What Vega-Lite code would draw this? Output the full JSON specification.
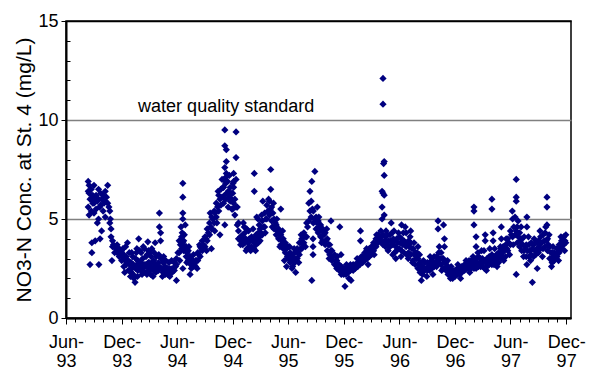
{
"$schema":"https://vega.github.io/schema/vega-lite/v6.json",
"width":505,"height":297,
"autosize":"none",
"padding":{"left":66,"top":21,"right":23,"bottom":53},
"background":"white",
"config":{"font":"Liberation Sans","view":{"stroke":"#000","strokeWidth":1.5},"axis":{"labelColor":"#000","titleColor":"#000","tickColor":"#000","domainColor":"#000"}},
"datasets":{"main":[
{"d":"1993-08-13","v":6.9},{"d":"1993-08-13","v":6.4},{"d":"1993-08-13","v":5.6},
{"d":"1993-08-16","v":6.3},{"d":"1993-08-16","v":5.2},{"d":"1993-08-16","v":6.7},
{"d":"1993-08-19","v":2.7},{"d":"1993-08-19","v":6.0},
{"d":"1993-08-23","v":6.0},{"d":"1993-08-23","v":5.4},{"d":"1993-08-23","v":6.5},
{"d":"1993-08-25","v":3.3},{"d":"1993-08-25","v":3.8},
{"d":"1993-08-27","v":6.1},
{"d":"1993-08-28","v":5.8},{"d":"1993-08-28","v":6.2},
{"d":"1993-09-01","v":6.7},{"d":"1993-09-01","v":5.8},{"d":"1993-09-01","v":5.3},
{"d":"1993-09-04","v":6.0},
{"d":"1993-09-05","v":3.9},
{"d":"1993-09-08","v":6.2},{"d":"1993-09-08","v":5.5},
{"d":"1993-09-12","v":4.8},{"d":"1993-09-12","v":5.9},
{"d":"1993-09-16","v":6.0},{"d":"1993-09-16","v":5.0},{"d":"1993-09-16","v":6.5},
{"d":"1993-09-17","v":2.7},
{"d":"1993-09-20","v":5.6},
{"d":"1993-09-21","v":4.0},
{"d":"1993-09-23","v":6.3},{"d":"1993-09-23","v":5.7},
{"d":"1993-09-26","v":4.4},
{"d":"1993-09-27","v":6.0},
{"d":"1993-10-01","v":6.2},{"d":"1993-10-01","v":5.4},
{"d":"1993-10-04","v":5.8},
{"d":"1993-10-08","v":5.9},{"d":"1993-10-08","v":5.1},{"d":"1993-10-08","v":6.4},
{"d":"1993-10-12","v":6.1},
{"d":"1993-10-16","v":6.7},{"d":"1993-10-16","v":5.8},
{"d":"1993-10-20","v":5.6},
{"d":"1993-10-23","v":5.4},{"d":"1993-10-23","v":4.8},
{"d":"1993-10-25","v":5.0},
{"d":"1993-10-27","v":4.5},{"d":"1993-10-27","v":4.1},
{"d":"1993-10-30","v":2.9},
{"d":"1993-11-01","v":3.9},{"d":"1993-11-01","v":3.6},
{"d":"1993-11-04","v":3.7},
{"d":"1993-11-08","v":3.6},{"d":"1993-11-08","v":3.3},
{"d":"1993-11-12","v":3.5},
{"d":"1993-11-16","v":3.7},{"d":"1993-11-16","v":3.3},
{"d":"1993-11-20","v":3.4},
{"d":"1993-11-23","v":3.5},{"d":"1993-11-23","v":3.1},
{"d":"1993-11-27","v":3.3},
{"d":"1993-12-01","v":3.4},{"d":"1993-12-01","v":2.9},
{"d":"1993-12-04","v":3.1},
{"d":"1993-12-05","v":3.5},
{"d":"1993-12-08","v":3.2},{"d":"1993-12-08","v":2.6},
{"d":"1993-12-11","v":2.3},
{"d":"1993-12-12","v":2.9},
{"d":"1993-12-14","v":3.6},
{"d":"1993-12-16","v":3.1},{"d":"1993-12-16","v":2.7},
{"d":"1993-12-20","v":3.8},{"d":"1993-12-20","v":2.9},
{"d":"1993-12-23","v":2.9},{"d":"1993-12-23","v":2.4},
{"d":"1993-12-26","v":3.3},
{"d":"1993-12-27","v":2.7},
{"d":"1993-12-30","v":2.1},
{"d":"1994-01-01","v":2.8},{"d":"1994-01-01","v":2.3},
{"d":"1994-01-03","v":3.3},
{"d":"1994-01-04","v":2.5},
{"d":"1994-01-06","v":3.1},
{"d":"1994-01-08","v":2.7},{"d":"1994-01-08","v":2.2},
{"d":"1994-01-10","v":2.0},
{"d":"1994-01-12","v":2.6},
{"d":"1994-01-14","v":1.8},
{"d":"1994-01-16","v":3.0},{"d":"1994-01-16","v":2.5},
{"d":"1994-01-18","v":3.3},
{"d":"1994-01-20","v":3.5},{"d":"1994-01-20","v":2.7},
{"d":"1994-01-22","v":2.1},
{"d":"1994-01-23","v":2.9},{"d":"1994-01-23","v":2.4},
{"d":"1994-01-26","v":4.0},
{"d":"1994-01-27","v":2.6},
{"d":"1994-01-29","v":3.4},
{"d":"1994-02-01","v":2.8},{"d":"1994-02-01","v":2.4},
{"d":"1994-02-03","v":3.3},
{"d":"1994-02-04","v":2.7},
{"d":"1994-02-06","v":2.2},
{"d":"1994-02-08","v":3.0},{"d":"1994-02-08","v":2.5},
{"d":"1994-02-10","v":3.6},
{"d":"1994-02-12","v":2.7},
{"d":"1994-02-14","v":3.5},
{"d":"1994-02-16","v":2.7},{"d":"1994-02-16","v":2.3},
{"d":"1994-02-19","v":3.1},
{"d":"1994-02-20","v":2.6},
{"d":"1994-02-22","v":2.2},
{"d":"1994-02-23","v":3.2},{"d":"1994-02-23","v":2.6},
{"d":"1994-02-25","v":3.85},
{"d":"1994-02-27","v":2.8},{"d":"1994-02-27","v":3.4},
{"d":"1994-03-01","v":2.8},{"d":"1994-03-01","v":2.4},
{"d":"1994-03-03","v":3.3},
{"d":"1994-03-04","v":2.7},
{"d":"1994-03-06","v":2.2},
{"d":"1994-03-08","v":3.1},{"d":"1994-03-08","v":2.5},
{"d":"1994-03-10","v":3.5},
{"d":"1994-03-12","v":2.8},
{"d":"1994-03-14","v":2.1},
{"d":"1994-03-16","v":2.9},{"d":"1994-03-16","v":2.4},
{"d":"1994-03-18","v":3.3},
{"d":"1994-03-20","v":2.6},
{"d":"1994-03-21","v":3.8},
{"d":"1994-03-23","v":2.7},{"d":"1994-03-23","v":2.3},
{"d":"1994-03-25","v":3.1},
{"d":"1994-03-27","v":2.5},
{"d":"1994-04-01","v":2.8},{"d":"1994-04-01","v":2.4},
{"d":"1994-04-02","v":3.2},
{"d":"1994-04-04","v":5.3},{"d":"1994-04-04","v":4.6},{"d":"1994-04-04","v":2.6},
{"d":"1994-04-08","v":4.3},{"d":"1994-04-08","v":3.9},
{"d":"1994-04-10","v":3.0},
{"d":"1994-04-12","v":2.5},
{"d":"1994-04-14","v":2.1},
{"d":"1994-04-16","v":2.8},{"d":"1994-04-16","v":2.3},
{"d":"1994-04-18","v":3.1},
{"d":"1994-04-20","v":2.5},
{"d":"1994-04-23","v":2.6},{"d":"1994-04-23","v":2.2},
{"d":"1994-04-25","v":2.9},
{"d":"1994-04-27","v":2.4},
{"d":"1994-05-01","v":2.5},{"d":"1994-05-01","v":2.2},
{"d":"1994-05-04","v":2.3},
{"d":"1994-05-05","v":2.8},
{"d":"1994-05-08","v":2.5},{"d":"1994-05-08","v":2.1},
{"d":"1994-05-12","v":2.3},
{"d":"1994-05-14","v":2.9},
{"d":"1994-05-16","v":2.5},{"d":"1994-05-16","v":2.3},
{"d":"1994-05-20","v":2.5},
{"d":"1994-05-23","v":2.8},{"d":"1994-05-23","v":2.4},
{"d":"1994-05-27","v":2.6},
{"d":"1994-05-30","v":1.9},{"d":"1994-05-30","v":3.0},{"d":"1994-05-30","v":2.7},
{"d":"1994-06-04","v":3.3},
{"d":"1994-06-08","v":3.9},{"d":"1994-06-08","v":3.3},
{"d":"1994-06-10","v":2.9},
{"d":"1994-06-12","v":3.7},
{"d":"1994-06-14","v":4.6},
{"d":"1994-06-16","v":4.1},{"d":"1994-06-16","v":3.5},
{"d":"1994-06-18","v":4.3},
{"d":"1994-06-20","v":6.8},{"d":"1994-06-20","v":6.1},{"d":"1994-06-20","v":5.3},{"d":"1994-06-20","v":5.0},{"d":"1994-06-20","v":2.5},{"d":"1994-06-20","v":3.8},
{"d":"1994-06-23","v":3.9},{"d":"1994-06-23","v":3.4},
{"d":"1994-06-25","v":4.2},
{"d":"1994-06-27","v":3.6},
{"d":"1994-06-28","v":4.7},
{"d":"1994-07-01","v":3.6},{"d":"1994-07-01","v":3.1},
{"d":"1994-07-03","v":2.8},
{"d":"1994-07-04","v":3.3},
{"d":"1994-07-08","v":3.4},{"d":"1994-07-08","v":2.9},
{"d":"1994-07-10","v":3.6},
{"d":"1994-07-12","v":3.1},
{"d":"1994-07-14","v":2.2},
{"d":"1994-07-16","v":3.1},{"d":"1994-07-16","v":2.7},
{"d":"1994-07-18","v":2.5},
{"d":"1994-07-20","v":2.9},
{"d":"1994-07-23","v":2.9},{"d":"1994-07-23","v":2.6},
{"d":"1994-07-25","v":3.2},
{"d":"1994-07-27","v":2.7},
{"d":"1994-08-01","v":2.9},{"d":"1994-08-01","v":2.6},
{"d":"1994-08-04","v":2.9},
{"d":"1994-08-06","v":2.5},
{"d":"1994-08-08","v":3.3},{"d":"1994-08-08","v":2.9},
{"d":"1994-08-12","v":3.2},
{"d":"1994-08-14","v":3.7},
{"d":"1994-08-16","v":3.6},{"d":"1994-08-16","v":3.1},
{"d":"1994-08-20","v":3.5},
{"d":"1994-08-23","v":3.9},{"d":"1994-08-23","v":3.4},
{"d":"1994-08-27","v":3.7},
{"d":"1994-09-01","v":4.1},{"d":"1994-09-01","v":3.6},
{"d":"1994-09-04","v":4.0},
{"d":"1994-09-06","v":3.4},
{"d":"1994-09-08","v":4.5},{"d":"1994-09-08","v":3.9},
{"d":"1994-09-12","v":4.3},
{"d":"1994-09-16","v":4.8},{"d":"1994-09-16","v":4.2},
{"d":"1994-09-18","v":5.3},
{"d":"1994-09-20","v":4.6},
{"d":"1994-09-22","v":3.5},
{"d":"1994-09-23","v":5.1},{"d":"1994-09-23","v":4.5},
{"d":"1994-09-27","v":5.0},
{"d":"1994-10-01","v":5.4},{"d":"1994-10-01","v":4.8},
{"d":"1994-10-03","v":4.4},
{"d":"1994-10-04","v":5.3},
{"d":"1994-10-08","v":5.8},{"d":"1994-10-08","v":5.1},
{"d":"1994-10-10","v":4.8},
{"d":"1994-10-12","v":5.6},
{"d":"1994-10-14","v":6.4},
{"d":"1994-10-16","v":6.2},{"d":"1994-10-16","v":5.4},
{"d":"1994-10-20","v":4.2},{"d":"1994-10-20","v":6.0},
{"d":"1994-10-23","v":6.5},{"d":"1994-10-23","v":5.7},
{"d":"1994-10-27","v":7.0},{"d":"1994-10-27","v":6.1},
{"d":"1994-10-30","v":6.6},
{"d":"1994-11-01","v":6.6},{"d":"1994-11-01","v":5.8},
{"d":"1994-11-03","v":7.0},
{"d":"1994-11-04","v":6.2},
{"d":"1994-11-05","v":9.5},{"d":"1994-11-05","v":8.7},{"d":"1994-11-05","v":7.6},{"d":"1994-11-05","v":4.7},
{"d":"1994-11-08","v":6.8},{"d":"1994-11-08","v":6.0},{"d":"1994-11-08","v":7.1},
{"d":"1994-11-10","v":8.5},{"d":"1994-11-10","v":7.9},{"d":"1994-11-10","v":7.3},
{"d":"1994-11-12","v":6.3},
{"d":"1994-11-14","v":6.9},
{"d":"1994-11-16","v":6.4},{"d":"1994-11-16","v":5.6},
{"d":"1994-11-20","v":6.1},{"d":"1994-11-20","v":7.2},
{"d":"1994-11-23","v":6.6},{"d":"1994-11-23","v":5.9},
{"d":"1994-11-27","v":6.0},
{"d":"1994-11-28","v":6.3},{"d":"1994-11-28","v":5.5},
{"d":"1994-12-01","v":6.3},{"d":"1994-12-01","v":5.5},
{"d":"1994-12-02","v":6.8},
{"d":"1994-12-04","v":7.3},{"d":"1994-12-04","v":6.9},{"d":"1994-12-04","v":6.6},{"d":"1994-12-04","v":5.8},
{"d":"1994-12-08","v":6.0},{"d":"1994-12-08","v":5.2},
{"d":"1994-12-12","v":9.4},{"d":"1994-12-12","v":8.1},{"d":"1994-12-12","v":7.0},{"d":"1994-12-12","v":5.6},
{"d":"1994-12-16","v":5.6},{"d":"1994-12-16","v":4.7},
{"d":"1994-12-20","v":4.4},{"d":"1994-12-20","v":4.0},{"d":"1994-12-20","v":4.8},
{"d":"1994-12-27","v":4.1},{"d":"1994-12-27","v":3.7},{"d":"1994-12-27","v":3.9},
{"d":"1995-01-03","v":4.2},{"d":"1995-01-03","v":3.7},
{"d":"1995-01-05","v":4.8},
{"d":"1995-01-06","v":4.0},
{"d":"1995-01-08","v":4.6},
{"d":"1995-01-10","v":4.3},{"d":"1995-01-10","v":3.8},
{"d":"1995-01-13","v":4.0},
{"d":"1995-01-14","v":3.4},
{"d":"1995-01-16","v":4.5},
{"d":"1995-01-17","v":3.9},{"d":"1995-01-17","v":3.5},
{"d":"1995-01-20","v":3.8},
{"d":"1995-01-22","v":4.4},
{"d":"1995-01-24","v":4.0},{"d":"1995-01-24","v":3.6},
{"d":"1995-01-27","v":3.9},
{"d":"1995-01-29","v":3.4},
{"d":"1995-02-01","v":4.1},{"d":"1995-02-01","v":3.6},
{"d":"1995-02-04","v":3.9},
{"d":"1995-02-06","v":4.5},
{"d":"1995-02-08","v":4.0},{"d":"1995-02-08","v":3.5},
{"d":"1995-02-10","v":7.3},{"d":"1995-02-10","v":6.4},
{"d":"1995-02-12","v":3.8},
{"d":"1995-02-14","v":3.4},
{"d":"1995-02-16","v":4.2},{"d":"1995-02-16","v":3.7},
{"d":"1995-02-18","v":5.1},
{"d":"1995-02-20","v":4.0},
{"d":"1995-02-22","v":5.0},
{"d":"1995-02-23","v":4.3},{"d":"1995-02-23","v":3.8},
{"d":"1995-02-26","v":4.7},
{"d":"1995-02-27","v":4.1},
{"d":"1995-03-01","v":4.5},{"d":"1995-03-01","v":3.9},
{"d":"1995-03-04","v":4.3},
{"d":"1995-03-06","v":5.2},
{"d":"1995-03-08","v":4.9},{"d":"1995-03-08","v":4.2},
{"d":"1995-03-10","v":5.9},
{"d":"1995-03-12","v":4.6},
{"d":"1995-03-16","v":5.3},{"d":"1995-03-16","v":4.6},
{"d":"1995-03-18","v":4.3},
{"d":"1995-03-20","v":5.0},
{"d":"1995-03-23","v":5.7},{"d":"1995-03-23","v":5.0},
{"d":"1995-03-27","v":5.4},
{"d":"1995-03-29","v":6.0},
{"d":"1995-04-01","v":5.9},{"d":"1995-04-01","v":5.2},
{"d":"1995-04-04","v":5.5},
{"d":"1995-04-05","v":7.5},{"d":"1995-04-05","v":6.5},
{"d":"1995-04-08","v":5.6},{"d":"1995-04-08","v":4.9},
{"d":"1995-04-10","v":4.6},
{"d":"1995-04-12","v":5.3},
{"d":"1995-04-14","v":5.8},
{"d":"1995-04-16","v":5.0},{"d":"1995-04-16","v":4.5},
{"d":"1995-04-20","v":4.8},
{"d":"1995-04-23","v":4.7},{"d":"1995-04-23","v":4.2},
{"d":"1995-04-25","v":5.0},
{"d":"1995-04-27","v":4.4},
{"d":"1995-05-01","v":4.5},{"d":"1995-05-01","v":4.0},
{"d":"1995-05-04","v":4.3},
{"d":"1995-05-05","v":3.6},
{"d":"1995-05-08","v":4.2},{"d":"1995-05-08","v":3.7},{"d":"1995-05-08","v":5.5},
{"d":"1995-05-12","v":3.9},
{"d":"1995-05-14","v":4.4},
{"d":"1995-05-16","v":4.0},{"d":"1995-05-16","v":3.5},
{"d":"1995-05-20","v":2.9},{"d":"1995-05-20","v":3.7},
{"d":"1995-05-23","v":3.8},{"d":"1995-05-23","v":3.3},
{"d":"1995-05-27","v":2.6},{"d":"1995-05-27","v":3.5},
{"d":"1995-05-30","v":3.1},
{"d":"1995-06-01","v":3.6},{"d":"1995-06-01","v":3.0},
{"d":"1995-06-04","v":3.2},
{"d":"1995-06-06","v":3.6},
{"d":"1995-06-08","v":3.3},{"d":"1995-06-08","v":2.8},
{"d":"1995-06-12","v":3.0},
{"d":"1995-06-14","v":2.5},
{"d":"1995-06-16","v":3.1},{"d":"1995-06-16","v":2.6},
{"d":"1995-06-20","v":2.9},
{"d":"1995-06-21","v":3.5},
{"d":"1995-06-23","v":3.3},{"d":"1995-06-23","v":2.8},
{"d":"1995-06-26","v":2.3},
{"d":"1995-06-27","v":3.0},
{"d":"1995-07-01","v":3.5},{"d":"1995-07-01","v":3.0},
{"d":"1995-07-04","v":3.3},
{"d":"1995-07-06","v":2.8},
{"d":"1995-07-08","v":3.8},{"d":"1995-07-08","v":3.2},
{"d":"1995-07-12","v":3.5},
{"d":"1995-07-14","v":4.2},
{"d":"1995-07-16","v":4.0},{"d":"1995-07-16","v":3.5},
{"d":"1995-07-20","v":3.7},
{"d":"1995-07-23","v":4.3},{"d":"1995-07-23","v":3.8},
{"d":"1995-07-27","v":4.1},
{"d":"1995-07-28","v":3.6},
{"d":"1995-08-01","v":4.8},{"d":"1995-08-01","v":4.1},
{"d":"1995-08-04","v":4.6},
{"d":"1995-08-08","v":5.8},{"d":"1995-08-08","v":4.9},
{"d":"1995-08-12","v":6.4},{"d":"1995-08-12","v":5.4},
{"d":"1995-08-16","v":5.9},{"d":"1995-08-16","v":5.1},
{"d":"1995-08-18","v":1.9},{"d":"1995-08-18","v":6.9},
{"d":"1995-08-20","v":5.5},
{"d":"1995-08-22","v":3.6},{"d":"1995-08-22","v":3.2},{"d":"1995-08-22","v":4.0},
{"d":"1995-08-23","v":5.4},{"d":"1995-08-23","v":4.8},
{"d":"1995-08-27","v":5.0},
{"d":"1995-08-28","v":7.4},
{"d":"1995-09-01","v":5.1},{"d":"1995-09-01","v":4.5},
{"d":"1995-09-04","v":4.8},
{"d":"1995-09-05","v":5.6},
{"d":"1995-09-08","v":4.9},{"d":"1995-09-08","v":4.3},
{"d":"1995-09-10","v":5.1},
{"d":"1995-09-12","v":4.6},
{"d":"1995-09-16","v":4.7},{"d":"1995-09-16","v":4.1},
{"d":"1995-09-19","v":3.8},
{"d":"1995-09-20","v":4.4},
{"d":"1995-09-23","v":4.5},{"d":"1995-09-23","v":3.9},
{"d":"1995-09-27","v":4.2},
{"d":"1995-10-01","v":4.3},{"d":"1995-10-01","v":3.7},
{"d":"1995-10-04","v":3.9},
{"d":"1995-10-06","v":4.5},
{"d":"1995-10-08","v":4.0},{"d":"1995-10-08","v":3.4},
{"d":"1995-10-12","v":3.7},
{"d":"1995-10-14","v":3.0},
{"d":"1995-10-16","v":3.7},{"d":"1995-10-16","v":3.2},
{"d":"1995-10-20","v":4.9},{"d":"1995-10-20","v":3.4},
{"d":"1995-10-23","v":3.4},{"d":"1995-10-23","v":2.9},
{"d":"1995-10-27","v":3.1},
{"d":"1995-11-01","v":3.2},{"d":"1995-11-01","v":2.7},
{"d":"1995-11-04","v":2.9},
{"d":"1995-11-08","v":2.9},{"d":"1995-11-08","v":2.5},
{"d":"1995-11-10","v":3.1},
{"d":"1995-11-12","v":2.7},
{"d":"1995-11-16","v":2.7},{"d":"1995-11-16","v":2.4},
{"d":"1995-11-18","v":4.6},
{"d":"1995-11-20","v":2.5},
{"d":"1995-11-22","v":3.2},
{"d":"1995-11-23","v":2.6},{"d":"1995-11-23","v":2.2},
{"d":"1995-11-27","v":2.4},
{"d":"1995-12-01","v":2.5},{"d":"1995-12-01","v":2.2},
{"d":"1995-12-04","v":2.3},
{"d":"1995-12-05","v":1.6},
{"d":"1995-12-08","v":2.5},{"d":"1995-12-08","v":2.2},
{"d":"1995-12-10","v":2.7},
{"d":"1995-12-12","v":2.4},
{"d":"1995-12-16","v":2.5},{"d":"1995-12-16","v":2.3},
{"d":"1995-12-18","v":2.0},
{"d":"1995-12-20","v":2.4},
{"d":"1995-12-23","v":2.7},{"d":"1995-12-23","v":2.4},
{"d":"1995-12-25","v":1.9},
{"d":"1995-12-27","v":2.5},
{"d":"1996-01-01","v":2.7},{"d":"1996-01-01","v":2.4},
{"d":"1996-01-04","v":2.6},
{"d":"1996-01-08","v":2.7},{"d":"1996-01-08","v":2.5},
{"d":"1996-01-12","v":2.6},
{"d":"1996-01-14","v":3.0},
{"d":"1996-01-16","v":2.8},{"d":"1996-01-16","v":2.6},
{"d":"1996-01-20","v":2.7},
{"d":"1996-01-23","v":2.9},{"d":"1996-01-23","v":2.7},
{"d":"1996-01-25","v":4.4},{"d":"1996-01-25","v":3.9},
{"d":"1996-01-28","v":3.1},{"d":"1996-01-28","v":2.9},
{"d":"1996-02-01","v":3.1},{"d":"1996-02-01","v":2.8},
{"d":"1996-02-04","v":3.0},
{"d":"1996-02-08","v":3.3},{"d":"1996-02-08","v":2.9},
{"d":"1996-02-12","v":3.1},
{"d":"1996-02-14","v":3.5},
{"d":"1996-02-16","v":3.4},{"d":"1996-02-16","v":3.0},
{"d":"1996-02-19","v":2.7},
{"d":"1996-02-20","v":3.2},
{"d":"1996-02-23","v":3.5},{"d":"1996-02-23","v":3.1},
{"d":"1996-02-27","v":3.3},
{"d":"1996-03-01","v":3.6},{"d":"1996-03-01","v":3.2},
{"d":"1996-03-04","v":3.4},
{"d":"1996-03-08","v":3.8},{"d":"1996-03-08","v":3.4},
{"d":"1996-03-10","v":3.2},
{"d":"1996-03-12","v":3.6},
{"d":"1996-03-16","v":4.0},{"d":"1996-03-16","v":3.6},
{"d":"1996-03-18","v":4.2},
{"d":"1996-03-20","v":3.8},
{"d":"1996-03-23","v":4.2},{"d":"1996-03-23","v":3.8},
{"d":"1996-03-27","v":4.0},
{"d":"1996-04-01","v":4.4},{"d":"1996-04-01","v":3.9},
{"d":"1996-04-03","v":4.1},
{"d":"1996-04-05","v":6.4},{"d":"1996-04-05","v":5.6},{"d":"1996-04-05","v":5.0},
{"d":"1996-04-08","v":12.1},{"d":"1996-04-08","v":10.8},{"d":"1996-04-08","v":6.3},{"d":"1996-04-08","v":4.2},{"d":"1996-04-08","v":3.7},
{"d":"1996-04-10","v":7.8},
{"d":"1996-04-12","v":7.9},{"d":"1996-04-12","v":7.2},{"d":"1996-04-12","v":6.2},{"d":"1996-04-12","v":5.2},
{"d":"1996-04-14","v":3.9},
{"d":"1996-04-16","v":4.1},{"d":"1996-04-16","v":3.6},
{"d":"1996-04-18","v":4.4},
{"d":"1996-04-20","v":3.9},
{"d":"1996-04-23","v":4.2},{"d":"1996-04-23","v":3.7},
{"d":"1996-04-25","v":3.4},
{"d":"1996-04-27","v":3.9},
{"d":"1996-05-01","v":4.2},{"d":"1996-05-01","v":3.6},
{"d":"1996-05-04","v":3.9},
{"d":"1996-05-05","v":4.8},
{"d":"1996-05-08","v":4.3},{"d":"1996-05-08","v":3.7},
{"d":"1996-05-10","v":3.2},
{"d":"1996-05-12","v":4.0},
{"d":"1996-05-14","v":4.4},
{"d":"1996-05-16","v":3.9},{"d":"1996-05-16","v":3.3},
{"d":"1996-05-20","v":3.0},{"d":"1996-05-20","v":3.6},
{"d":"1996-05-23","v":4.0},{"d":"1996-05-23","v":3.4},
{"d":"1996-05-27","v":3.8},
{"d":"1996-05-29","v":4.3},
{"d":"1996-06-01","v":4.1},{"d":"1996-06-01","v":3.5},
{"d":"1996-06-04","v":3.8},
{"d":"1996-06-06","v":3.1},
{"d":"1996-06-08","v":4.0},{"d":"1996-06-08","v":3.4},{"d":"1996-06-08","v":4.7},
{"d":"1996-06-12","v":3.7},
{"d":"1996-06-14","v":4.3},
{"d":"1996-06-16","v":3.9},{"d":"1996-06-16","v":3.3},
{"d":"1996-06-20","v":4.6},{"d":"1996-06-20","v":3.8},
{"d":"1996-06-23","v":4.3},{"d":"1996-06-23","v":3.6},
{"d":"1996-06-25","v":3.2},
{"d":"1996-06-27","v":3.7},
{"d":"1996-06-30","v":3.0},
{"d":"1996-07-01","v":3.9},{"d":"1996-07-01","v":3.3},
{"d":"1996-07-04","v":3.6},
{"d":"1996-07-06","v":4.1},
{"d":"1996-07-08","v":3.8},{"d":"1996-07-08","v":3.2},{"d":"1996-07-08","v":4.4},
{"d":"1996-07-12","v":3.5},
{"d":"1996-07-14","v":2.8},
{"d":"1996-07-16","v":3.5},{"d":"1996-07-16","v":2.9},
{"d":"1996-07-19","v":3.8},
{"d":"1996-07-20","v":3.2},
{"d":"1996-07-23","v":3.3},{"d":"1996-07-23","v":2.7},
{"d":"1996-07-27","v":3.0},
{"d":"1996-07-29","v":3.3},
{"d":"1996-08-01","v":3.0},{"d":"1996-08-01","v":2.5},{"d":"1996-08-01","v":3.6},
{"d":"1996-08-04","v":2.7},
{"d":"1996-08-06","v":3.2},
{"d":"1996-08-08","v":2.8},{"d":"1996-08-08","v":2.3},
{"d":"1996-08-12","v":1.9},{"d":"1996-08-12","v":2.5},
{"d":"1996-08-16","v":2.6},{"d":"1996-08-16","v":2.2},
{"d":"1996-08-19","v":2.9},
{"d":"1996-08-20","v":2.4},
{"d":"1996-08-23","v":2.8},{"d":"1996-08-23","v":2.4},
{"d":"1996-08-27","v":2.5},
{"d":"1996-08-30","v":2.1},
{"d":"1996-09-01","v":2.8},{"d":"1996-09-01","v":2.4},
{"d":"1996-09-04","v":2.6},
{"d":"1996-09-08","v":2.8},{"d":"1996-09-08","v":2.4},
{"d":"1996-09-10","v":3.1},
{"d":"1996-09-12","v":2.6},
{"d":"1996-09-16","v":2.9},{"d":"1996-09-16","v":2.5},
{"d":"1996-09-19","v":2.2},
{"d":"1996-09-20","v":2.7},
{"d":"1996-09-23","v":3.1},{"d":"1996-09-23","v":2.6},
{"d":"1996-09-27","v":2.8},
{"d":"1996-10-01","v":3.1},{"d":"1996-10-01","v":2.6},
{"d":"1996-10-04","v":2.9},
{"d":"1996-10-06","v":4.9},{"d":"1996-10-06","v":4.5},
{"d":"1996-10-08","v":3.3},{"d":"1996-10-08","v":2.8},
{"d":"1996-10-10","v":3.6},
{"d":"1996-10-12","v":3.0},
{"d":"1996-10-16","v":3.3},{"d":"1996-10-16","v":2.7},
{"d":"1996-10-18","v":2.4},
{"d":"1996-10-20","v":3.0},
{"d":"1996-10-23","v":3.0},{"d":"1996-10-23","v":2.5},
{"d":"1996-10-24","v":4.7},
{"d":"1996-10-27","v":4.0},{"d":"1996-10-27","v":3.6},{"d":"1996-10-27","v":2.8},
{"d":"1996-11-01","v":2.8},{"d":"1996-11-01","v":2.4},
{"d":"1996-11-04","v":2.6},
{"d":"1996-11-06","v":2.9},
{"d":"1996-11-08","v":2.6},{"d":"1996-11-08","v":2.2},
{"d":"1996-11-12","v":2.4},
{"d":"1996-11-16","v":2.4},{"d":"1996-11-16","v":2.0},
{"d":"1996-11-18","v":2.6},
{"d":"1996-11-20","v":2.2},
{"d":"1996-11-23","v":2.4},{"d":"1996-11-23","v":2.0},
{"d":"1996-11-27","v":2.2},
{"d":"1996-12-01","v":2.4},{"d":"1996-12-01","v":2.1},
{"d":"1996-12-04","v":2.3},
{"d":"1996-12-08","v":2.5},{"d":"1996-12-08","v":2.2},
{"d":"1996-12-10","v":2.7},
{"d":"1996-12-12","v":2.3},
{"d":"1996-12-16","v":2.5},{"d":"1996-12-16","v":2.2},
{"d":"1996-12-19","v":2.0},
{"d":"1996-12-20","v":2.4},
{"d":"1996-12-23","v":2.6},{"d":"1996-12-23","v":2.3},
{"d":"1996-12-27","v":2.5},
{"d":"1997-01-01","v":2.7},{"d":"1997-01-01","v":2.4},
{"d":"1997-01-04","v":2.5},
{"d":"1997-01-06","v":2.9},
{"d":"1997-01-08","v":2.7},{"d":"1997-01-08","v":2.5},
{"d":"1997-01-12","v":2.6},
{"d":"1997-01-16","v":2.9},{"d":"1997-01-16","v":2.5},
{"d":"1997-01-18","v":2.3},
{"d":"1997-01-20","v":2.7},
{"d":"1997-01-23","v":2.9},{"d":"1997-01-23","v":2.5},
{"d":"1997-01-27","v":2.7},
{"d":"1997-01-29","v":3.1},
{"d":"1997-02-01","v":2.9},{"d":"1997-02-01","v":2.5},{"d":"1997-02-01","v":5.6},{"d":"1997-02-01","v":5.4},{"d":"1997-02-01","v":4.7},
{"d":"1997-02-04","v":2.7},
{"d":"1997-02-08","v":3.0},{"d":"1997-02-08","v":2.5},{"d":"1997-02-08","v":4.1},{"d":"1997-02-08","v":3.6},
{"d":"1997-02-12","v":2.8},
{"d":"1997-02-14","v":3.3},
{"d":"1997-02-16","v":3.1},{"d":"1997-02-16","v":2.6},
{"d":"1997-02-20","v":2.8},
{"d":"1997-02-23","v":3.0},{"d":"1997-02-23","v":2.6},
{"d":"1997-02-26","v":3.4},
{"d":"1997-02-27","v":2.8},
{"d":"1997-03-01","v":3.0},{"d":"1997-03-01","v":2.6},
{"d":"1997-03-04","v":2.8},
{"d":"1997-03-06","v":3.4},
{"d":"1997-03-08","v":2.9},{"d":"1997-03-08","v":2.5},
{"d":"1997-03-10","v":4.2},{"d":"1997-03-10","v":3.9},
{"d":"1997-03-12","v":2.8},
{"d":"1997-03-14","v":2.4},
{"d":"1997-03-16","v":3.0},{"d":"1997-03-16","v":2.6},
{"d":"1997-03-20","v":2.9},
{"d":"1997-03-23","v":3.1},{"d":"1997-03-23","v":2.7},
{"d":"1997-03-25","v":3.5},
{"d":"1997-03-27","v":2.9},
{"d":"1997-04-01","v":3.2},{"d":"1997-04-01","v":2.7},{"d":"1997-04-01","v":6.0},{"d":"1997-04-01","v":5.5},
{"d":"1997-04-04","v":3.0},
{"d":"1997-04-05","v":3.9},{"d":"1997-04-05","v":4.3},
{"d":"1997-04-08","v":3.1},{"d":"1997-04-08","v":2.7},
{"d":"1997-04-10","v":3.5},
{"d":"1997-04-12","v":2.9},
{"d":"1997-04-16","v":3.2},{"d":"1997-04-16","v":2.8},
{"d":"1997-04-18","v":2.6},
{"d":"1997-04-20","v":3.0},
{"d":"1997-04-23","v":3.3},{"d":"1997-04-23","v":2.8},
{"d":"1997-04-27","v":3.1},
{"d":"1997-04-29","v":3.6},
{"d":"1997-05-01","v":3.5},{"d":"1997-05-01","v":3.0},
{"d":"1997-05-02","v":4.6},{"d":"1997-05-02","v":4.0},
{"d":"1997-05-04","v":3.3},
{"d":"1997-05-08","v":3.6},{"d":"1997-05-08","v":3.1},
{"d":"1997-05-10","v":2.9},
{"d":"1997-05-12","v":3.4},
{"d":"1997-05-16","v":3.7},{"d":"1997-05-16","v":3.1},
{"d":"1997-05-18","v":4.0},
{"d":"1997-05-20","v":3.5},
{"d":"1997-05-23","v":4.0},{"d":"1997-05-23","v":3.4},
{"d":"1997-05-27","v":3.8},
{"d":"1997-05-29","v":3.2},
{"d":"1997-06-01","v":4.4},{"d":"1997-06-01","v":3.7},
{"d":"1997-06-04","v":4.2},
{"d":"1997-06-07","v":5.4},
{"d":"1997-06-08","v":5.0},{"d":"1997-06-08","v":4.1},
{"d":"1997-06-10","v":3.7},
{"d":"1997-06-12","v":4.6},
{"d":"1997-06-16","v":5.1},{"d":"1997-06-16","v":4.2},
{"d":"1997-06-20","v":7.0},{"d":"1997-06-20","v":6.1},{"d":"1997-06-20","v":5.9},{"d":"1997-06-20","v":2.2},{"d":"1997-06-20","v":4.4},
{"d":"1997-06-23","v":4.6},{"d":"1997-06-23","v":3.8},
{"d":"1997-06-26","v":4.9},
{"d":"1997-06-27","v":4.1},
{"d":"1997-07-01","v":4.3},{"d":"1997-07-01","v":3.6},
{"d":"1997-07-04","v":3.9},
{"d":"1997-07-06","v":4.6},
{"d":"1997-07-08","v":4.0},{"d":"1997-07-08","v":3.4},
{"d":"1997-07-12","v":3.7},
{"d":"1997-07-14","v":3.1},
{"d":"1997-07-16","v":4.1},{"d":"1997-07-16","v":3.4},
{"d":"1997-07-20","v":3.6},
{"d":"1997-07-23","v":3.7},{"d":"1997-07-23","v":3.1},
{"d":"1997-07-25","v":5.1},{"d":"1997-07-25","v":4.6},{"d":"1997-07-25","v":2.7},
{"d":"1997-07-27","v":3.4},
{"d":"1997-07-30","v":4.1},
{"d":"1997-08-01","v":3.7},{"d":"1997-08-01","v":3.1},
{"d":"1997-08-04","v":3.4},
{"d":"1997-08-06","v":2.9},
{"d":"1997-08-08","v":3.8},{"d":"1997-08-08","v":3.2},
{"d":"1997-08-12","v":1.8},{"d":"1997-08-12","v":3.5},
{"d":"1997-08-16","v":3.7},{"d":"1997-08-16","v":3.1},
{"d":"1997-08-18","v":4.0},
{"d":"1997-08-20","v":3.4},
{"d":"1997-08-23","v":3.8},{"d":"1997-08-23","v":3.2},
{"d":"1997-08-27","v":3.5},
{"d":"1997-08-28","v":2.5},
{"d":"1997-09-01","v":3.9},{"d":"1997-09-01","v":3.3},
{"d":"1997-09-04","v":3.7},
{"d":"1997-09-06","v":4.4},
{"d":"1997-09-08","v":4.1},{"d":"1997-09-08","v":3.5},
{"d":"1997-09-12","v":3.8},
{"d":"1997-09-14","v":3.1},
{"d":"1997-09-16","v":4.2},{"d":"1997-09-16","v":3.5},
{"d":"1997-09-20","v":3.9},
{"d":"1997-09-23","v":4.3},{"d":"1997-09-23","v":3.6},
{"d":"1997-09-25","v":4.6},
{"d":"1997-09-27","v":3.9},
{"d":"1997-09-29","v":6.1},{"d":"1997-09-29","v":5.6},{"d":"1997-09-29","v":4.7},
{"d":"1997-10-01","v":4.0},{"d":"1997-10-01","v":3.4},
{"d":"1997-10-04","v":3.7},
{"d":"1997-10-06","v":4.2},
{"d":"1997-10-08","v":3.6},{"d":"1997-10-08","v":3.0},
{"d":"1997-10-12","v":3.3},
{"d":"1997-10-14","v":2.6},
{"d":"1997-10-16","v":3.3},{"d":"1997-10-16","v":2.8},
{"d":"1997-10-19","v":3.6},
{"d":"1997-10-20","v":3.1},
{"d":"1997-10-23","v":3.3},{"d":"1997-10-23","v":2.9},
{"d":"1997-10-27","v":3.1},
{"d":"1997-11-01","v":3.5},{"d":"1997-11-01","v":3.1},
{"d":"1997-11-04","v":3.3},
{"d":"1997-11-06","v":2.9},
{"d":"1997-11-08","v":3.7},{"d":"1997-11-08","v":3.3},
{"d":"1997-11-12","v":3.5},
{"d":"1997-11-14","v":4.1},
{"d":"1997-11-16","v":3.9},{"d":"1997-11-16","v":3.5},
{"d":"1997-11-20","v":3.7},
{"d":"1997-11-23","v":4.1},{"d":"1997-11-23","v":3.7},
{"d":"1997-11-26","v":3.4},
{"d":"1997-11-27","v":3.9},
{"d":"1997-11-30","v":4.2},{"d":"1997-11-30","v":3.8}
]},
"layer":[
{"data":{"name":"main"},
 "mark":{"type":"point","shape":"diamond","filled":true,"size":52,"color":"#000080","opacity":1,"strokeWidth":0},
 "encoding":{
  "x":{"field":"d","type":"temporal",
   "scale":{"type":"utc","domain":[{"year":1993,"month":6,"date":1,"utc":true},{"year":1997,"month":12,"date":17,"utc":true}]},
   "axis":{"orient":"bottom","title":null,"grid":false,
    "values":[{"year":1993,"month":6,"date":1,"utc":true},{"year":1993,"month":12,"date":1,"utc":true},{"year":1994,"month":6,"date":1,"utc":true},{"year":1994,"month":12,"date":1,"utc":true},{"year":1995,"month":6,"date":1,"utc":true},{"year":1995,"month":12,"date":1,"utc":true},{"year":1996,"month":6,"date":1,"utc":true},{"year":1996,"month":12,"date":1,"utc":true},{"year":1997,"month":6,"date":1,"utc":true},{"year":1997,"month":12,"date":1,"utc":true}],
    "labelExpr":"[utcFormat(datum.value,'%b')+'-', utcFormat(datum.value,'%y')]",
    "labelFontSize":18,"labelPadding":9,"labelBaseline":"top","labelLineHeight":19,"labelAlign":"center",
    "labelFlush":false,"labelOverlap":false,"labelBound":false,
    "tickSize":6,"tickWidth":1,"domainWidth":2}},
  "y":{"field":"v","type":"quantitative",
   "scale":{"domain":[0,15],"nice":false,"zero":true},
   "axis":{"orient":"left","values":[0,5,10,15],"title":"NO3-N Conc. at St. 4 (mg/L)","titleFontSize":21,"titleFontWeight":"normal","titlePadding":3,
    "labelFontSize":18,"labelPadding":3,"tickSize":5,"tickWidth":1,"domainWidth":2,
    "grid":true,"gridWidth":1.5,
    "gridColor":{"condition":{"test":"datum.value === 15 || datum.value === 0","value":"#000000"},"value":"#808080"}}}
 }},
{"data":{"values":[{"d":"1993-06-01","v":0}]},
 "mark":{"type":"point","opacity":0},
 "encoding":{
  "x":{"field":"d","type":"temporal","axis":{"orient":"bottom","title":null,"labels":false,"domain":false,"grid":false,"tickCount":{"interval":"month","step":1},"tickSize":4,"tickWidth":1}},
  "y":{"field":"v","type":"quantitative","axis":{"orient":"left","title":null,"labels":false,"domain":false,"grid":false,"values":[1,2,3,4,6,7,8,9,11,12,13,14],"tickSize":-4,"tickWidth":1}}
 }},
{"data":{"values":[{"d":"1994-01-24","v":10.42,"t":"water quality standard"}]},
 "mark":{"type":"text","align":"left","baseline":"alphabetic","fontSize":18,"color":"#000"},
 "encoding":{
  "x":{"field":"d","type":"temporal","axis":null},
  "y":{"field":"v","type":"quantitative","axis":null},
  "text":{"field":"t"}
 }}
],
"resolve":{"axis":{"x":"independent","y":"independent"}}
}
